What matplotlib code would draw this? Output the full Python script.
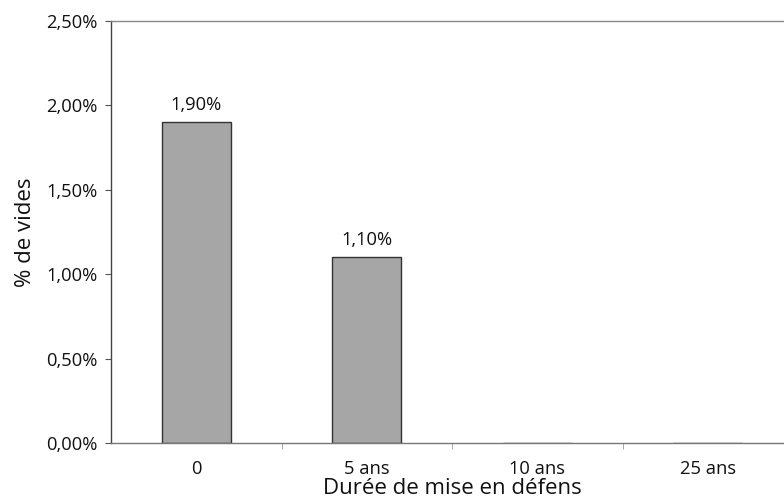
import numpy as np
from matplotlib import pyplot as plt
from matplotlib.ticker import FuncFormatter

categories = ["0", "5 ans", "10 ans", "25 ans"]
vides = [1.90, 1.10, 0.0, 0.0]
labels = ["1,90%", "1,10%", None, None]

plt.rcParams["font.family"] = ["Open Sans", "DejaVu Sans"]

fig = plt.figure(figsize=(7.84, 4.99), dpi=100)
ax = fig.add_axes([0.1416, 0.1122, 0.8699, 0.8457])

x = np.arange(len(categories))
bars = ax.bar(x, vides, width=0.405, color="#a6a6a6", edgecolor="#333333", linewidth=1.0, zorder=2)
for xi, v, lab in zip(x, vides, labels):
    if lab:
        ax.text(xi, v + 0.05, lab, ha="center", va="bottom", fontsize=13.2, color="#111111")

ax.set_xlim(-0.5, len(categories) - 0.5)
ax.set_ylim(0, 2.5)
ax.set_yticks(np.arange(0, 2.51, 0.5))
ax.yaxis.set_major_formatter(FuncFormatter(lambda v, p: ("%.2f%%" % v).replace(".", ",")))
ax.set_xticks(x)
ax.set_xticklabels(categories)
ax.set_xticks(np.arange(0.5, len(categories) - 0.5, 1), minor=True)
ax.tick_params(axis="x", which="major", length=0, pad=12, labelsize=13.2, colors="#111111")
ax.tick_params(axis="x", which="minor", length=4, color="#999999")
ax.tick_params(axis="y", length=4, pad=6, labelsize=13.2, colors="#111111")
ax.tick_params(axis="y", color="#555555")

ax.spines["right"].set_visible(False)
ax.spines["top"].set_color("#888888")
ax.spines["bottom"].set_color("#777777")
ax.spines["left"].set_color("#444444")
for s in ax.spines.values():
    s.set_linewidth(1.0)

ax.set_xlabel("Durée de mise en défens", fontsize=16, labelpad=0, color="#111111")
ax.set_ylabel("% de vides", fontsize=16, labelpad=7, color="#111111")

plt.savefig("out.png", dpi=100)
